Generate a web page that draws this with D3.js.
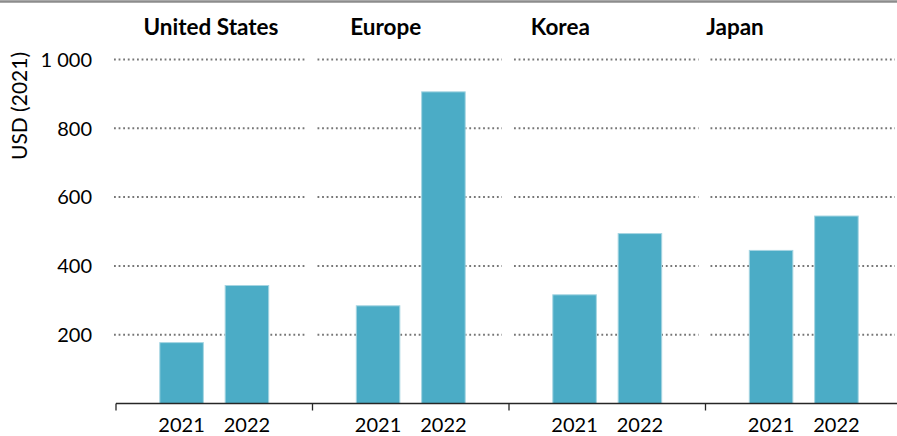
<!DOCTYPE html>
<html>
<head>
<meta charset="utf-8">
<script src="https://cdn.jsdelivr.net/npm/d3@7"></script>
<style>
  body { margin: 0; background: #fff; }
  text { font-family: Lato, "Noto Sans", sans-serif; fill: #000; }
</style>
</head>
<body>
<div id="chart"></div>
<script>
var regions = ["United States", "Europe", "Korea", "Japan"]
var years = ["2021", "2022"]
var values2021 = [177, 284, 316, 445]
var values2022 = [343, 906, 494, 545]
var yTicks = [200, 400, 600, 800, 1000]
var yLabel = "USD (2021)"

function draw(){
    var width = 897, height = 436
    var left = 116, bottom = 403.5, top = 59.5
    var panelW = 196.5

    var svg = d3.select("#chart").append("svg")
      .attr("width", width)
      .attr("height", height)

    // top rule
    svg.append("line")
      .attr("x1", 0).attr("x2", width)
      .attr("y1", 1.5).attr("y2", 1.5)
      .attr("stroke", "#8c8c8c")
      .attr("stroke-width", 2.5)

    var xscale = d3.scaleBand()
      .domain(regions)
      .range([left, left + panelW * regions.length])
      .padding(0)

    var inner = d3.scaleBand()
      .domain(years)
      .range([0, panelW])
      .paddingInner(0.334)
      .paddingOuter(0.67)

    var yscale = d3.scaleLinear()
      .domain([0, 1000])
      .range([bottom, top])

    // dotted gridlines, one segment per panel
    regions.forEach(function(r, i){
        var x0 = xscale(r) + (i == 0 ? -2 : 5)
        var x1 = xscale(r) + panelW - 7
        svg.append("g").selectAll("line")
          .data(yTicks)
        .enter().append("line")
          .attr("x1", x0).attr("x2", x1)
          .attr("y1", function(d){ return yscale(d) })
          .attr("y2", function(d){ return yscale(d) })
          .attr("stroke", "#767676")
          .attr("stroke-width", 2)
          .attr("stroke-dasharray", "1.8,2.8")
    })

    // y tick labels
    svg.append("g").selectAll("text")
      .data(yTicks)
    .enter().append("text")
      .attr("x", 92)
      .attr("y", function(d){ return yscale(d) })
      .attr("dy", "0.36em")
      .attr("text-anchor", "end")
      .style("font-size", "20px")
      .text(function(d){ return d3.format(",")(d).replace(/,/g, " ") })

    svg.append("text")
      .attr("transform", "translate(27,106) rotate(-90)")
      .attr("text-anchor", "middle")
      .style("font-size", "21px")
      .text(yLabel)

    // bars
    var gdata = []
    for(var i = 0; i < regions.length; i++){
        gdata.push({region: regions[i], year: years[0], v: values2021[i]})
        gdata.push({region: regions[i], year: years[1], v: values2022[i]})
    }
    svg.append("g").selectAll("rect")
      .data(gdata)
    .enter().append("rect")
      .attr("x", function(d){ return xscale(d.region) + inner(d.year) })
      .attr("y", function(d){ return yscale(d.v) })
      .attr("width", inner.bandwidth())
      .attr("height", function(d){ return bottom - yscale(d.v) })
      .attr("fill", "#4bacc6")
      .attr("stroke", "#a5d5e2")
      .attr("stroke-width", 1)

    // baseline + panel ticks
    svg.append("line")
      .attr("x1", left).attr("x2", width)
      .attr("y1", bottom).attr("y2", bottom)
      .attr("stroke", "#262626")
      .attr("stroke-width", 1.3)
    svg.append("g").selectAll("line")
      .data(regions)
    .enter().append("line")
      .attr("x1", function(d){ return xscale(d) })
      .attr("x2", function(d){ return xscale(d) })
      .attr("y1", bottom).attr("y2", bottom + 7)
      .attr("stroke", "#262626")
      .attr("stroke-width", 1.3)

    // year labels
    svg.append("g").selectAll("text")
      .data(gdata)
    .enter().append("text")
      .attr("x", function(d){ return xscale(d.region) + inner(d.year) + inner.bandwidth() / 2 })
      .attr("y", 432)
      .attr("text-anchor", "middle")
      .style("font-size", "20px")
      .text(function(d){ return d.year })

    // panel titles
    var titleX = d3.scalePoint().domain(regions).range([211, 735])
    svg.append("g").selectAll("text")
      .data(regions)
    .enter().append("text")
      .attr("x", function(d){ return titleX(d) })
      .attr("y", 35)
      .attr("text-anchor", "middle")
      .style("font-size", "22.5px")
      .style("font-weight", "bold")
      .text(function(d){ return d })
}

draw()
</script>
</body>
</html>
